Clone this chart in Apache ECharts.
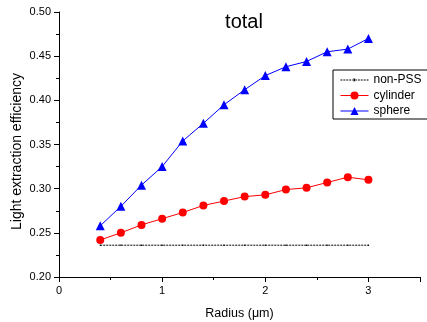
<!DOCTYPE html>
<html><head><meta charset="utf-8">
<script src="https://cdn.jsdelivr.net/npm/echarts@6/dist/echarts.min.js"></script>
<style>html,body{margin:0;padding:0;background:#fff}#c{width:427px;height:322px}</style>
</head><body><div id="c"></div>
<script>
const radius = [0.4,0.6,0.8,1.0,1.2,1.4,1.6,1.8,2.0,2.2,2.4,2.6,2.8,3.0];
const nonPSS = [0.236,0.236,0.236,0.236,0.236,0.236,0.236,0.236,0.236,0.236,0.236,0.236,0.236,0.236];
const cylinder = [0.242,0.250,0.259,0.266,0.273,0.281,0.286,0.291,0.293,0.299,0.301,0.307,0.313,0.310];
const sphere = [0.258,0.280,0.304,0.325,0.354,0.374,0.395,0.412,0.428,0.438,0.444,0.455,0.458,0.470];
const xTicks = [0,1,2,3];
const yTicks = [0.20,0.25,0.30,0.35,0.40,0.45,0.50];

const pairs = a => radius.map((x,i)=>[x,a[i]]);
const font = 'Liberation Sans, Arial, sans-serif';

// dotted legend icon with a small dot (28 x 10 box)
let dotted = 'path://M0,0h0.01v0.01h-0.01z M27.99,9.99h0.01v0.01h-0.01z';
for (let x = 0; x < 28; x += 3) dotted += ' M' + x + ',4.5h2v1h-2z';
dotted += ' M12.5,5a1.5,1.5 0 1,0 3,0a1.5,1.5 0 1,0 -3,0z';

const chart = echarts.init(document.getElementById('c'), null, {renderer:'canvas'});
chart.setOption({
  animation:false,
  backgroundColor:'#fff',
  title:{text:'total', left:239, top:7, textAlign:'center',
    textStyle:{fontFamily:font, fontSize:20, fontWeight:'normal', color:'#000'}},
  grid:{left:59, right:7, top:12, bottom:45, containLabel:false, outerBoundsMode:'none'},
  legend:{
    left:333, top:70, orient:'vertical', itemGap:3.5, itemWidth:28, itemHeight:10,
    padding:[4,8,2,7], borderColor:'#000', borderWidth:1, borderRadius:0,
    lineStyle:{width:1},
    textStyle:{fontFamily:font, fontSize:12, color:'#000'},
    data:[{name:'non-PSS', icon:dotted},'cylinder','sphere']
  },
  xAxis:{type:'value', min:0, max:3.5, interval:1,
    axisLine:{lineStyle:{color:'#000', width:1}},
    axisTick:{length:5, lineStyle:{color:'#000'}},
    minorTick:{show:true, splitNumber:2, length:3, lineStyle:{color:'#000'}},
    splitLine:{show:false},
    axisLabel:{fontFamily:font, fontSize:11, color:'#000', margin:8,
      formatter:v=> xTicks.includes(v)? String(v):''},
    name:'Radius (\u03bcm)', nameLocation:'middle', nameGap:30, nameMoveOverlap:false,
    nameTextStyle:{fontFamily:font, fontSize:12.5, color:'#000'}
  },
  yAxis:{type:'value', min:0.20, max:0.50, interval:0.05,
    axisLine:{show:true, lineStyle:{color:'#000', width:1}},
    axisTick:{show:true, length:5, lineStyle:{color:'#000'}},
    minorTick:{show:true, splitNumber:2, length:3, lineStyle:{color:'#000'}},
    splitLine:{show:false},
    axisLabel:{fontFamily:font, fontSize:11, color:'#000', margin:8,
      formatter:v=>{const t=yTicks.find(y=>Math.abs(y-v)<1e-9); return t===undefined?'':t.toFixed(2);}},
    name:'Light extraction efficiency', nameLocation:'middle', nameGap:35, nameMoveOverlap:false,
    nameTextStyle:{fontFamily:font, fontSize:14, color:'#000', padding:[0,14,0,0]}
  },
  series:[
    {name:'non-PSS', type:'line', data:pairs(nonPSS), symbol:'circle', symbolSize:1.5,
      itemStyle:{color:'#000'}, lineStyle:{color:'#000', width:1, type:[2,1]}},
    {name:'cylinder', type:'line', data:pairs(cylinder), symbol:'circle', symbolSize:8,
      itemStyle:{color:'#ff0000'}, lineStyle:{color:'#ff0000', width:1}},
    {name:'sphere', type:'line', data:pairs(sphere), symbol:'triangle', symbolSize:9,
      itemStyle:{color:'#0000ff'}, lineStyle:{color:'#0000ff', width:1}}
  ]
});
</script></body></html>
